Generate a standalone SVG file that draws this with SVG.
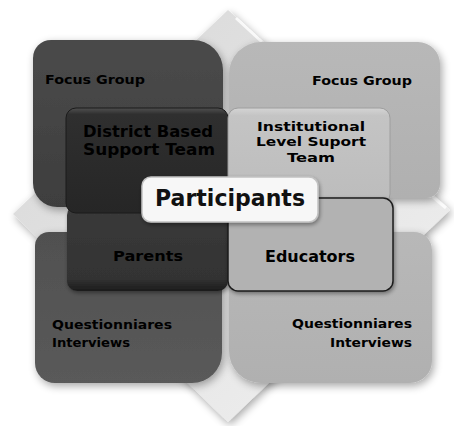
<svg xmlns="http://www.w3.org/2000/svg" width="454" height="426" viewBox="0 0 454 426">
  <defs>
    <linearGradient id="gDiamond" x1="0" y1="0" x2="1" y2="1">
      <stop offset="0" stop-color="#d6d6d6"/>
      <stop offset="0.5" stop-color="#e4e4e4"/>
      <stop offset="1" stop-color="#f2f2f2"/>
    </linearGradient>
    <linearGradient id="gDarkOuter" x1="0" y1="0" x2="0" y2="1">
      <stop offset="0" stop-color="#4a4a4a"/>
      <stop offset="1" stop-color="#3e3e3e"/>
    </linearGradient>
    <linearGradient id="gDarkOuter2" x1="0" y1="0" x2="0" y2="1">
      <stop offset="0" stop-color="#505050"/>
      <stop offset="1" stop-color="#5a5a5a"/>
    </linearGradient>
    <linearGradient id="gLightOuter" x1="0" y1="0" x2="0" y2="1">
      <stop offset="0" stop-color="#b8b8b8"/>
      <stop offset="1" stop-color="#b0b0b0"/>
    </linearGradient>
    <linearGradient id="gDarkInner" x1="0" y1="0" x2="0" y2="1">
      <stop offset="0" stop-color="#505050"/>
      <stop offset="0.06" stop-color="#2f2f2f"/>
      <stop offset="1" stop-color="#262626"/>
    </linearGradient>
    <linearGradient id="gParents" x1="0" y1="0" x2="0" y2="1">
      <stop offset="0" stop-color="#3a3a3a"/>
      <stop offset="0.85" stop-color="#333333"/>
      <stop offset="1" stop-color="#1c1c1c"/>
    </linearGradient>
    <linearGradient id="gLightInner" x1="0" y1="0" x2="0" y2="1">
      <stop offset="0" stop-color="#d4d4d4"/>
      <stop offset="0.08" stop-color="#c4c4c4"/>
      <stop offset="1" stop-color="#bcbcbc"/>
    </linearGradient>
    <filter id="shadow" x="-15%" y="-15%" width="130%" height="130%">
      <feGaussianBlur in="SourceAlpha" stdDeviation="4"/>
      <feOffset dx="2" dy="3" result="b"/>
      <feComponentTransfer><feFuncA type="linear" slope="0.35"/></feComponentTransfer>
      <feMerge><feMergeNode/><feMergeNode in="SourceGraphic"/></feMerge>
    </filter>
    <filter id="softShadow" x="-10%" y="-20%" width="120%" height="140%">
      <feGaussianBlur in="SourceAlpha" stdDeviation="2"/>
      <feOffset dx="1" dy="2"/>
      <feComponentTransfer><feFuncA type="linear" slope="0.4"/></feComponentTransfer>
      <feMerge><feMergeNode/><feMergeNode in="SourceGraphic"/></feMerge>
    </filter>
    <style>
      text { font-family: "DejaVu Sans", "Liberation Sans", sans-serif; font-weight: bold; fill: #000; }
      .small { font-size: 12px; }
      .mid { font-size: 14px; }
      .inst { font-size: 13px; }
      .big { font-size: 15px; }
      .title { font-size: 23px; fill: #111; }
      .quad { filter: url(#shadow); }
    </style>
  </defs>

  <rect width="454" height="426" fill="#ffffff"/>

  <!-- background diamond whose tips show between the quadrants -->
  <g id="diamond">
    <polygon points="228,10 450,210 228,422 13,214" fill="url(#gDiamond)" filter="url(#shadow)"/>
    <polyline points="236,18 262,42" fill="none" stroke="#ffffff" stroke-width="3" opacity="0.8"/>
    <polyline points="420,186 446,208" fill="none" stroke="#ffffff" stroke-width="3" opacity="0.8"/>
  </g>

  <!-- quadrant backgrounds -->
  <g id="quad-top-left">
    <path class="quad" d="M51,40 H193 A30,30 0 0 1 223,70 V207 H57 A24,24 0 0 1 33,183 V58 A18,18 0 0 1 51,40 Z" fill="url(#gDarkOuter)"/>
    <text class="small" x="45" y="84" textLength="100" lengthAdjust="spacingAndGlyphs">Focus Group</text>
  </g>
  <g id="quad-top-right">
    <path class="quad" d="M261,42 H418 A22,22 0 0 1 440,64 V184 A14,14 0 0 1 426,198 H229 V74 A32,32 0 0 1 261,42 Z" fill="url(#gLightOuter)"/>
    <text class="small" x="412" y="85" text-anchor="end" textLength="100" lengthAdjust="spacingAndGlyphs">Focus Group</text>
  </g>
  <g id="quad-bottom-left">
    <path class="quad" d="M49,232 H222 V353 A30,30 0 0 1 192,383 H55 A20,20 0 0 1 35,363 V246 A14,14 0 0 1 49,232 Z" fill="url(#gDarkOuter2)"/>
    <text class="small" x="52" y="329" textLength="120" lengthAdjust="spacingAndGlyphs">Questionniares</text>
    <text class="small" x="52" y="347" textLength="78" lengthAdjust="spacingAndGlyphs">Interviews</text>
  </g>
  <g id="quad-bottom-right">
    <path class="quad" d="M229,232 H414 A18,18 0 0 1 432,250 V361 A22,22 0 0 1 410,383 H261 A32,32 0 0 1 229,351 Z" fill="url(#gLightOuter)"/>
    <text class="small" x="412" y="328" text-anchor="end" textLength="120" lengthAdjust="spacingAndGlyphs">Questionniares</text>
    <text class="small" x="412" y="347" text-anchor="end" textLength="82" lengthAdjust="spacingAndGlyphs">Interviews</text>
  </g>

  <!-- inner team boxes -->
  <g id="parents">
    <rect x="67" y="205" width="161" height="86" rx="10" fill="url(#gParents)" filter="url(#softShadow)"/>
    <text class="mid" x="148" y="261" text-anchor="middle" textLength="70" lengthAdjust="spacingAndGlyphs">Parents</text>
  </g>
  <g id="district-team">
    <rect x="66" y="108" width="162" height="105" rx="10" fill="url(#gDarkInner)" stroke="#1a1a1a" stroke-width="1"/>
    <text class="big" x="148" y="137" text-anchor="middle" textLength="130" lengthAdjust="spacingAndGlyphs">District Based</text>
    <text class="big" x="149" y="155" text-anchor="middle" textLength="132" lengthAdjust="spacingAndGlyphs">Support Team</text>
  </g>
  <g id="institutional-team">
    <rect x="228" y="108" width="162" height="96" rx="10" fill="url(#gLightInner)" stroke="#9e9e9e" stroke-width="1"/>
    <text class="inst" x="311" y="131" text-anchor="middle" textLength="108" lengthAdjust="spacingAndGlyphs">Institutional</text>
    <text class="inst" x="311" y="146" text-anchor="middle" textLength="110" lengthAdjust="spacingAndGlyphs">Level Suport</text>
    <text class="inst" x="311" y="162" text-anchor="middle" textLength="48" lengthAdjust="spacingAndGlyphs">Team</text>
  </g>
  <g id="educators">
    <rect x="228" y="198" width="165" height="93" rx="10" fill="#b2b2b2" stroke="#1e1e1e" stroke-width="1.5" filter="url(#softShadow)"/>
    <text class="big" x="310" y="262" text-anchor="middle" textLength="90" lengthAdjust="spacingAndGlyphs">Educators</text>
  </g>

  <!-- central label -->
  <g id="participants">
    <rect x="142" y="177" width="176" height="45" rx="9" fill="#f7f7f7" stroke="#c2c2c2" stroke-width="1.5" filter="url(#softShadow)"/>
    <text class="title" x="230" y="206" text-anchor="middle" textLength="150" lengthAdjust="spacingAndGlyphs">Participants</text>
  </g>

  <g id="connectors"/>
</svg>
